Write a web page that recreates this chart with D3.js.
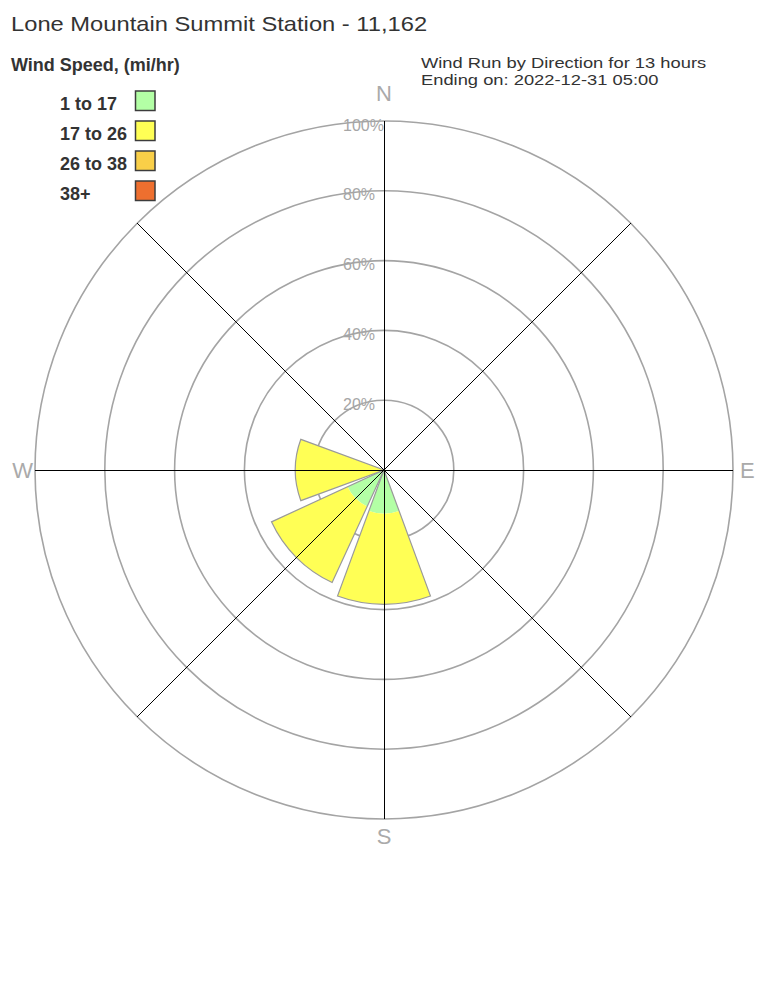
<!DOCTYPE html>
<html>
<head>
<meta charset="utf-8">
<script src="https://cdn.jsdelivr.net/npm/d3@7/dist/d3.min.js"></script>
<style>
  html, body { margin: 0; padding: 0; background: #fff; }
  svg { display: block; font-family: "Liberation Sans", Arial, sans-serif; }
</style>
</head>
<body>
<svg id="chart" width="768" height="1008"></svg>
<script>
// ---- data ----
const directions = ["N", "NE", "E", "SE", "S", "SW", "W", "NW"];
const directionAngles = [0, 45, 90, 135, 180, 225, 270, 315];
const speedBins = ["1 to 17", "17 to 26", "26 to 38", "38+"];
const binColors = ["#b3ffa5", "#ffff55", "#f9cf48", "#ee6f2f"];
// percent of wind run per direction for each speed bin
const bin1to17  = [0, 0, 0, 0, 12.5, 11.5, 0, 0];
const bin17to26 = [0, 0, 0, 0, 26.0, 24.0, 25.4, 0];
const bin26to38 = [0, 0, 0, 0, 0, 0, 0, 0];
const bin38plus = [0, 0, 0, 0, 0, 0, 0, 0];
const ringTicks = [20, 40, 60, 80, 100];
const ringLabels = ["20%", "40%", "60%", "80%", "100%"];
const compassLabels = ["N", "E", "S", "W"];
const titleText = "Lone Mountain Summit Station - 11,162";
const legendTitle = "Wind Speed, (mi/hr)";
const subtitle1 = "Wind Run by Direction for 13 hours";
const subtitle2 = "Ending on: 2022-12-31 05:00";

// ---- layout ----
const svg = d3.select("#chart");
const cx = 384, cy = 470, R = 349;
const r = d3.scaleLinear().domain([0, 100]).range([0, R]);
const toRad = d => d * Math.PI / 180;
const halfWidth = 20.25;

const g = svg.append("g").attr("transform", `translate(${cx},${cy})`);

// rings
g.selectAll("circle.ring").data(ringTicks).join("circle")
  .attr("class", "ring")
  .attr("r", d => r(d))
  .attr("fill", "none")
  .attr("stroke", "#a4a4a4")
  .attr("stroke-width", 1.6);

// wedges
const series = [bin1to17, bin17to26, bin26to38, bin38plus];
const arc = d3.arc();
directions.forEach((dir, i) => {
  const a = directionAngles[i];
  let acc = 0;
  series.forEach((s, k) => {
    const v = s[i];
    if (v > 0) {
      g.append("path")
        .attr("d", arc({innerRadius: r(acc), outerRadius: r(acc + v),
          startAngle: toRad(a - halfWidth), endAngle: toRad(a + halfWidth)}))
        .attr("fill", binColors[k]);
    }
    acc += v;
  });
  if (acc > 0) {
    g.append("path")
      .attr("d", arc({innerRadius: 0, outerRadius: r(acc),
        startAngle: toRad(a - halfWidth), endAngle: toRad(a + halfWidth)}))
      .attr("fill", "none")
      .attr("stroke", "#9a9a9a")
      .attr("stroke-width", 1.2);
  }
});

// spokes
g.selectAll("line.spoke").data(directionAngles).join("line")
  .attr("class", "spoke")
  .attr("x1", 0).attr("y1", 0)
  .attr("x2", d => r(100) * Math.sin(toRad(d)))
  .attr("y2", d => -r(100) * Math.cos(toRad(d)))
  .attr("stroke", "#000")
  .attr("stroke-width", 1)
  .attr("shape-rendering", "crispEdges");

// ring labels
g.selectAll("text.rl").data(ringTicks).join("text")
  .attr("class", "rl")
  .attr("x", -41)
  .attr("y", d => -r(d) + 9.5)
  .attr("fill", "#a6a6a6")
  .attr("font-size", 16)
  .text((d, i) => ringLabels[i]);

// compass labels
const compassPos = {
  N: {x: 0, y: -R - 20, anchor: "middle"},
  E: {x: R + 7, y: 8, anchor: "start"},
  S: {x: 0, y: R + 25, anchor: "middle"},
  W: {x: -R - 2, y: 8, anchor: "end"}
};
compassLabels.forEach(c => {
  g.append("text")
    .attr("x", compassPos[c].x).attr("y", compassPos[c].y)
    .attr("text-anchor", compassPos[c].anchor)
    .attr("fill", "#aaaaaa")
    .attr("font-size", 22)
    .text(c);
});

// title (horizontally widened glyphs as in the reference)
svg.append("text")
  .attr("transform", "translate(11,31) scale(1.13,1)")
  .attr("font-size", 21)
  .attr("fill", "#333")
  .text(titleText);

// subtitles
svg.append("text")
  .attr("transform", "translate(421,68) scale(1.265,1)")
  .attr("font-size", 14.5)
  .attr("fill", "#333")
  .text(subtitle1);
svg.append("text")
  .attr("transform", "translate(421,84.5) scale(1.265,1)")
  .attr("font-size", 14.5)
  .attr("fill", "#333")
  .text(subtitle2);

// legend
svg.append("text")
  .attr("x", 11).attr("y", 70.5)
  .attr("font-size", 18)
  .attr("font-weight", "bold")
  .attr("fill", "#333")
  .text(legendTitle);

const leg = svg.append("g");
speedBins.forEach((b, i) => {
  leg.append("text")
    .attr("x", 60).attr("y", 110 + i * 30)
    .attr("font-size", 18)
    .attr("font-weight", "bold")
    .attr("fill", "#333")
    .text(b);
  leg.append("rect")
    .attr("x", 135.5).attr("y", 91 + i * 30)
    .attr("width", 19.5).attr("height", 19.5)
    .attr("fill", binColors[i])
    .attr("stroke", "#3c3c3c")
    .attr("stroke-width", 1.5);
});
</script>
</body>
</html>
